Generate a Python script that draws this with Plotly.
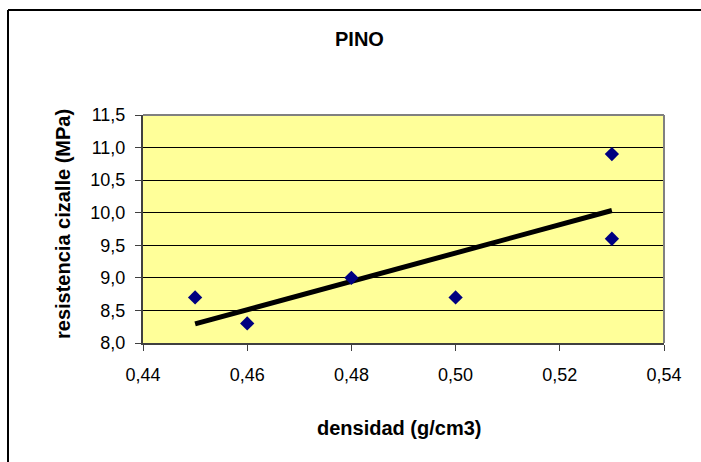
import numpy as np
import plotly.graph_objects as go

densidad = [0.45, 0.46, 0.48, 0.50, 0.53, 0.53]
resistencia = [8.7, 8.3, 9.0, 8.7, 10.9, 9.6]
x_ticks = [0.44, 0.46, 0.48, 0.50, 0.52, 0.54]
y_ticks = [8.0, 8.5, 9.0, 9.5, 10.0, 10.5, 11.0, 11.5]

slope, intercept = np.polyfit(densidad, resistencia, 1)
x_fit = [min(densidad), max(densidad)]
y_fit = [slope * v + intercept for v in x_fit]

W, H = 701, 462
L, R, T, B = 143, 37, 115, 119
pw, ph = W - L - R, H - T - B

def px(x):
    return (x - L) / pw

def py(y):
    return 1 - (y - T) / ph

FONT = "Liberation Sans, Arial, sans-serif"

fig = go.Figure()
fig.add_trace(go.Scatter(x=x_fit, y=y_fit, mode="lines",
                         line=dict(color="black", width=5), hoverinfo="skip"))
fig.add_trace(go.Scatter(x=densidad, y=resistencia, mode="markers",
                         marker=dict(symbol="diamond", size=11, color="#000080",
                                     line=dict(width=0))))

fig.update_layout(
    width=W, height=H, autosize=False,
    margin=dict(l=L, r=R, t=T, b=B, pad=0),
    paper_bgcolor="white", plot_bgcolor="#FFFF99",
    showlegend=False, separators=", ",
    font=dict(family=FONT, size=18, color="black"),
    xaxis=dict(range=[0.44, 0.54], tickvals=x_ticks, tickformat=".2f",
               showgrid=False, zeroline=False, showline=True, linecolor="#404040",
               linewidth=2, ticks="outside", ticklen=6, tickcolor="#404040",
               tickwidth=1, tickfont=dict(size=18), ticklabelstandoff=8),
    yaxis=dict(range=[8.0, 11.5], tickvals=y_ticks, tickformat=".1f",
               showgrid=True, gridcolor="black", gridwidth=1, zeroline=False,
               showline=True, linecolor="#404040", linewidth=2, ticks="outside",
               ticklen=6, tickcolor="#404040", tickwidth=1, tickfont=dict(size=18),
               ticklabelstandoff=6),
    shapes=[
        dict(type="line", xref="paper", yref="paper", x0=0, x1=1, y0=1, y1=1,
             line=dict(color="#808080", width=2)),
        dict(type="line", xref="paper", yref="paper", x0=1, x1=1, y0=0, y1=1,
             line=dict(color="#808080", width=2)),
        dict(type="line", xref="paper", yref="paper", x0=px(8), x1=px(720),
             y0=py(10), y1=py(10), line=dict(color="black", width=2)),
        dict(type="line", xref="paper", yref="paper", x0=px(8), x1=px(8),
             y0=py(10), y1=py(480), line=dict(color="black", width=2)),
    ],
    annotations=[
        dict(text="<b>PINO</b>", xref="paper", yref="paper", x=px(359), y=py(39),
             showarrow=False, font=dict(size=20), xanchor="center", yanchor="middle"),
        dict(text="<b>densidad (g/cm3)</b>", xref="paper", yref="paper",
             x=px(399), y=py(428), showarrow=False, font=dict(size=20),
             xanchor="center", yanchor="middle"),
        dict(text="<b>resistencia cizalle (MPa)</b>", xref="paper", yref="paper",
             x=px(63), y=py(224), showarrow=False, font=dict(size=20), textangle=-90,
             xanchor="center", yanchor="middle"),
    ],
)

fig.write_html("out.html")
